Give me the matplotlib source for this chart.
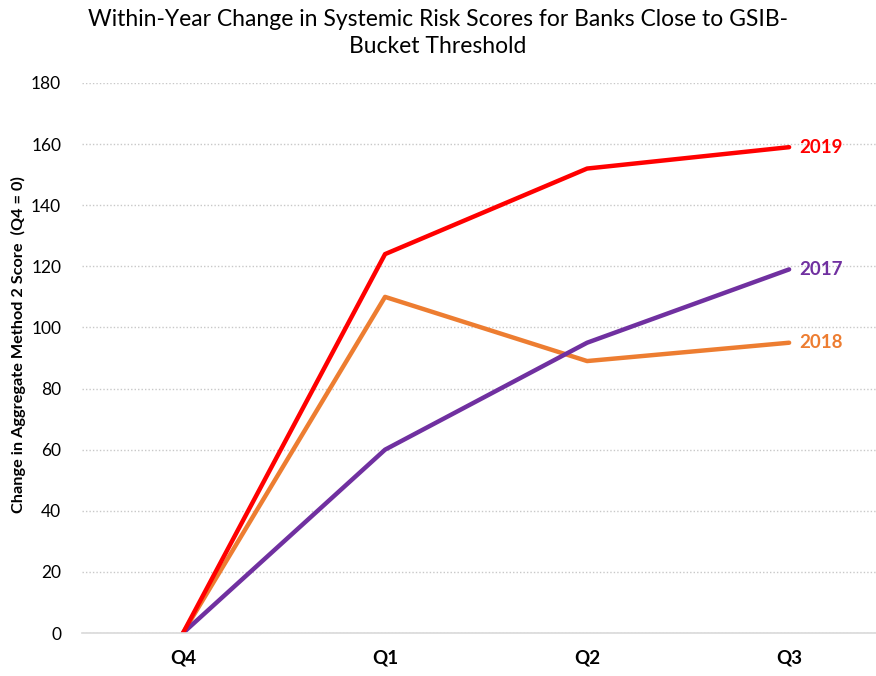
import matplotlib.pyplot as plt

quarters = ["Q4", "Q1", "Q2", "Q3"]
years = ["2019", "2017", "2018"]
score_2019 = [0, 124, 152, 159]
score_2017 = [0, 60, 95, 119]
score_2018 = [0, 110, 89, 95]
colors = {"2019": "#FF0000", "2017": "#7030A0", "2018": "#ED7D31"}

plt.rcParams["font.family"] = ["Lato", "DejaVu Sans"]

fig = plt.figure(figsize=(8.76, 6.76), dpi=100)
ax = fig.add_axes([82 / 876, 43 / 676, 794 / 876, 550 / 676])

x = range(len(quarters))
series = {"2019": score_2019, "2017": score_2017, "2018": score_2018}
for year in ["2018", "2017", "2019"]:
    vals = series[year]
    ax.plot(x, vals, color=colors[year], lw=3.2, solid_capstyle="round")
    ax.text(len(quarters) - 1 + 0.05, vals[-1], year, color=colors[year],
            fontsize=13.5, fontweight="bold", va="center", ha="left")

ax.set_xlim(-0.5, 3.43)
ax.set_ylim(0, 180)
ax.set_yticks(range(0, 181, 20))
ax.set_xticks(list(x))
ax.set_xticklabels(quarters, fontsize=13.5, fontweight="bold")
ax.tick_params(axis="y", labelsize=12.5, length=0, pad=15)
ax.tick_params(axis="x", length=0, pad=12)

ax.yaxis.grid(True, color="#C8C8C8", linestyle=(0, (1, 1.5)), lw=1)
ax.set_axisbelow(True)
for side in ["top", "right", "left"]:
    ax.spines[side].set_visible(False)
ax.spines["bottom"].set_color("#D9D9D9")
ax.spines["bottom"].set_linewidth(1.2)

ax.set_ylabel("Change in Aggregate Method 2 Score  (Q4 = 0)", fontsize=11.7,
              fontweight="bold")
ax.yaxis.set_label_coords(-56 / 794, 0.524)

fig.suptitle("Within-Year Change in Systemic Risk Scores for Banks Close to GSIB-\nBucket Threshold",
             x=0.5, y=0.986, fontsize=16.5, linespacing=1.3)

fig.savefig("out.png", dpi=100)
